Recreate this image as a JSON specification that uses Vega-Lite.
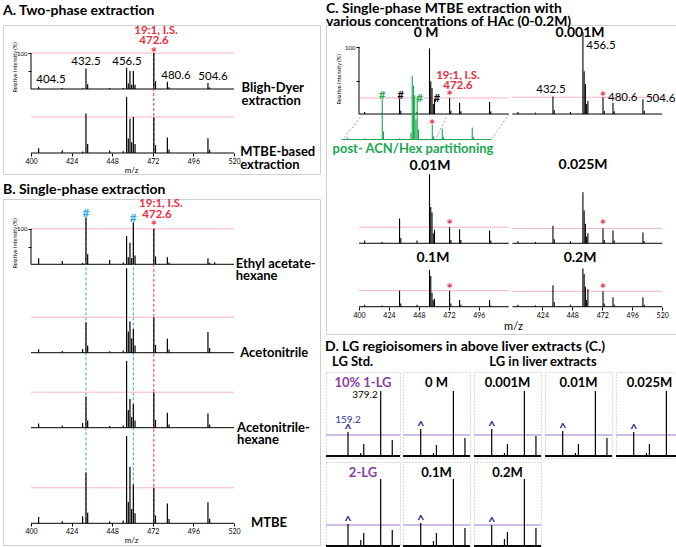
{
"$schema":"https://vega.github.io/schema/vega-lite/v6.json",
"background":"white",
"padding":{"left":2,"top":1,"right":0,"bottom":0},
"config":{
 "font":"Lato",
 "view":{"stroke":"#cfcfcf","strokeWidth":1},
 "title":{"font":"Lato","fontWeight":"bold","fontSize":14,"anchor":"start","color":"#000"},
 "axis":{"labelFont":"Lato","titleFont":"Lato","labelColor":"#000","tickColor":"#000","titleColor":"#000","grid":false,"domain":false},
 "text":{"font":"Lato","color":"#000"},
 "header":{"labels":false,"labelFontSize":0,"labelPadding":0,"title":null,"titlePadding":0},
 "headerFacet":{"labels":false,"labelFontSize":0,"labelPadding":0,"titlePadding":0}
},
"datasets":{
"spec":[
{"s":"A1","mz":404.5,"i":6},{"s":"A1","mz":418.5,"i":3},{"s":"A1","mz":430.5,"i":2},{"s":"A1","mz":432.5,"i":57},{"s":"A1","mz":433.5,"i":13},{"s":"A1","mz":446.5,"i":3},{"s":"A1","mz":454.5,"i":3},{"s":"A1","mz":456.5,"i":59},{"s":"A1","mz":457.5,"i":15},{"s":"A1","mz":458.5,"i":50},{"s":"A1","mz":459.5,"i":12},{"s":"A1","mz":460.5,"i":50},{"s":"A1","mz":461.5,"i":12},{"s":"A1","mz":472.6,"i":100},{"s":"A1","mz":473.6,"i":22},{"s":"A1","mz":480.6,"i":20},{"s":"A1","mz":481.6,"i":5},{"s":"A1","mz":504.6,"i":17},{"s":"A1","mz":505.6,"i":4},
{"s":"A2","mz":404.5,"i":13},{"s":"A2","mz":418.5,"i":8},{"s":"A2","mz":430.5,"i":4},{"s":"A2","mz":432.5,"i":110},{"s":"A2","mz":433.5,"i":25},{"s":"A2","mz":446.5,"i":7},{"s":"A2","mz":454.5,"i":5},{"s":"A2","mz":456.5,"i":156},{"s":"A2","mz":457.5,"i":40},{"s":"A2","mz":458.5,"i":96},{"s":"A2","mz":459.5,"i":30},{"s":"A2","mz":460.5,"i":100},{"s":"A2","mz":461.5,"i":25},{"s":"A2","mz":472.6,"i":99},{"s":"A2","mz":473.6,"i":22},{"s":"A2","mz":480.6,"i":43},{"s":"A2","mz":481.6,"i":10},{"s":"A2","mz":504.6,"i":41},{"s":"A2","mz":505.6,"i":9},
{"s":"B1","mz":404.5,"i":17},{"s":"B1","mz":418.5,"i":9},{"s":"B1","mz":430.5,"i":4},{"s":"B1","mz":432.5,"i":132},{"s":"B1","mz":433.5,"i":28},{"s":"B1","mz":446.5,"i":12},{"s":"B1","mz":454.5,"i":5},{"s":"B1","mz":456.5,"i":80},{"s":"B1","mz":457.5,"i":20},{"s":"B1","mz":458.5,"i":61},{"s":"B1","mz":459.5,"i":18},{"s":"B1","mz":460.5,"i":118},{"s":"B1","mz":461.5,"i":25},{"s":"B1","mz":472.6,"i":100},{"s":"B1","mz":473.6,"i":22},{"s":"B1","mz":480.6,"i":20},{"s":"B1","mz":481.6,"i":5},{"s":"B1","mz":504.6,"i":17},{"s":"B1","mz":505.6,"i":4},{"s":"B1","mz":508.6,"i":6},
{"s":"B2","mz":404.5,"i":10},{"s":"B2","mz":418.5,"i":5},{"s":"B2","mz":430.5,"i":10},{"s":"B2","mz":432.5,"i":86},{"s":"B2","mz":433.5,"i":20},{"s":"B2","mz":446.5,"i":4},{"s":"B2","mz":454.5,"i":6},{"s":"B2","mz":456.5,"i":238},{"s":"B2","mz":457.5,"i":60},{"s":"B2","mz":458.5,"i":88},{"s":"B2","mz":459.5,"i":40},{"s":"B2","mz":460.5,"i":66},{"s":"B2","mz":461.5,"i":20},{"s":"B2","mz":472.6,"i":100},{"s":"B2","mz":473.6,"i":22},{"s":"B2","mz":480.6,"i":39},{"s":"B2","mz":481.6,"i":9},{"s":"B2","mz":504.6,"i":58},{"s":"B2","mz":505.6,"i":13},
{"s":"B3","mz":404.5,"i":12},{"s":"B3","mz":418.5,"i":6},{"s":"B3","mz":430.5,"i":13},{"s":"B3","mz":432.5,"i":88},{"s":"B3","mz":433.5,"i":20},{"s":"B3","mz":446.5,"i":5},{"s":"B3","mz":454.5,"i":6},{"s":"B3","mz":456.5,"i":188},{"s":"B3","mz":457.5,"i":50},{"s":"B3","mz":458.5,"i":81},{"s":"B3","mz":459.5,"i":30},{"s":"B3","mz":460.5,"i":67},{"s":"B3","mz":461.5,"i":20},{"s":"B3","mz":472.6,"i":100},{"s":"B3","mz":473.6,"i":22},{"s":"B3","mz":480.6,"i":42},{"s":"B3","mz":481.6,"i":9},{"s":"B3","mz":504.6,"i":40},{"s":"B3","mz":505.6,"i":9},
{"s":"B4","mz":404.5,"i":18},{"s":"B4","mz":418.5,"i":6},{"s":"B4","mz":430.5,"i":20},{"s":"B4","mz":432.5,"i":143},{"s":"B4","mz":433.5,"i":30},{"s":"B4","mz":446.5,"i":5},{"s":"B4","mz":454.5,"i":8},{"s":"B4","mz":456.5,"i":246},{"s":"B4","mz":457.5,"i":60},{"s":"B4","mz":458.5,"i":159},{"s":"B4","mz":459.5,"i":40},{"s":"B4","mz":460.5,"i":109},{"s":"B4","mz":461.5,"i":28},{"s":"B4","mz":472.6,"i":100},{"s":"B4","mz":473.6,"i":22},{"s":"B4","mz":480.6,"i":56},{"s":"B4","mz":481.6,"i":12},{"s":"B4","mz":504.6,"i":59},{"s":"B4","mz":505.6,"i":13},
{"s":"C0","mz":404.5,"i":3},{"s":"C0","mz":418.5,"i":2},{"s":"C0","mz":432.5,"i":22},{"s":"C0","mz":433.5,"i":5},{"s":"C0","mz":446.5,"i":3},{"s":"C0","mz":456.5,"i":98},{"s":"C0","mz":457.5,"i":49},{"s":"C0","mz":458.5,"i":39},{"s":"C0","mz":459.5,"i":15},{"s":"C0","mz":460.5,"i":22},{"s":"C0","mz":472.6,"i":24},{"s":"C0","mz":473.6,"i":5},{"s":"C0","mz":480.6,"i":17},{"s":"C0","mz":481.6,"i":4},{"s":"C0","mz":504.6,"i":18},{"s":"C0","mz":505.6,"i":4},
{"s":"C1","mz":404.5,"i":3},{"s":"C1","mz":418.5,"i":2},{"s":"C1","mz":432.5,"i":26},{"s":"C1","mz":433.5,"i":6},{"s":"C1","mz":446.5,"i":3},{"s":"C1","mz":456.5,"i":122},{"s":"C1","mz":457.5,"i":64},{"s":"C1","mz":458.5,"i":45},{"s":"C1","mz":459.5,"i":15},{"s":"C1","mz":460.5,"i":20},{"s":"C1","mz":472.6,"i":25},{"s":"C1","mz":473.6,"i":5},{"s":"C1","mz":480.6,"i":17},{"s":"C1","mz":481.6,"i":4},{"s":"C1","mz":504.6,"i":22},{"s":"C1","mz":505.6,"i":5},
{"s":"C2","mz":404.5,"i":4},{"s":"C2","mz":418.5,"i":2},{"s":"C2","mz":432.5,"i":37},{"s":"C2","mz":433.5,"i":8},{"s":"C2","mz":446.5,"i":4},{"s":"C2","mz":456.5,"i":103},{"s":"C2","mz":457.5,"i":54},{"s":"C2","mz":458.5,"i":46},{"s":"C2","mz":459.5,"i":15},{"s":"C2","mz":460.5,"i":20},{"s":"C2","mz":472.6,"i":24},{"s":"C2","mz":473.6,"i":5},{"s":"C2","mz":480.6,"i":21},{"s":"C2","mz":481.6,"i":5},{"s":"C2","mz":504.6,"i":19},{"s":"C2","mz":505.6,"i":4},
{"s":"C3","mz":404.5,"i":3},{"s":"C3","mz":418.5,"i":2},{"s":"C3","mz":432.5,"i":26},{"s":"C3","mz":433.5,"i":6},{"s":"C3","mz":446.5,"i":3},{"s":"C3","mz":456.5,"i":76},{"s":"C3","mz":457.5,"i":49},{"s":"C3","mz":458.5,"i":29},{"s":"C3","mz":459.5,"i":10},{"s":"C3","mz":460.5,"i":15},{"s":"C3","mz":472.6,"i":22},{"s":"C3","mz":473.6,"i":5},{"s":"C3","mz":480.6,"i":19},{"s":"C3","mz":481.6,"i":4},{"s":"C3","mz":504.6,"i":16},{"s":"C3","mz":505.6,"i":3},
{"s":"C4","mz":404.5,"i":3},{"s":"C4","mz":418.5,"i":2},{"s":"C4","mz":432.5,"i":24},{"s":"C4","mz":433.5,"i":5},{"s":"C4","mz":446.5,"i":3},{"s":"C4","mz":456.5,"i":55},{"s":"C4","mz":457.5,"i":46},{"s":"C4","mz":458.5,"i":21},{"s":"C4","mz":459.5,"i":10},{"s":"C4","mz":460.5,"i":12},{"s":"C4","mz":472.6,"i":24},{"s":"C4","mz":473.6,"i":5},{"s":"C4","mz":480.6,"i":10},{"s":"C4","mz":481.6,"i":3},{"s":"C4","mz":504.6,"i":10},{"s":"C4","mz":505.6,"i":2},
{"s":"C5","mz":404.5,"i":3},{"s":"C5","mz":418.5,"i":2},{"s":"C5","mz":432.5,"i":32},{"s":"C5","mz":433.5,"i":7},{"s":"C5","mz":446.5,"i":3},{"s":"C5","mz":456.5,"i":57},{"s":"C5","mz":457.5,"i":49},{"s":"C5","mz":458.5,"i":30},{"s":"C5","mz":459.5,"i":10},{"s":"C5","mz":460.5,"i":26},{"s":"C5","mz":472.6,"i":23},{"s":"C5","mz":473.6,"i":5},{"s":"C5","mz":480.6,"i":14},{"s":"C5","mz":481.6,"i":3},{"s":"C5","mz":504.6,"i":14},{"s":"C5","mz":505.6,"i":3},
{"s":"CG","mz":404.5,"i":3},{"s":"CG","mz":418.5,"i":2},{"s":"CG","mz":432.5,"i":60},{"s":"CG","mz":433.5,"i":12},{"s":"CG","mz":446.5,"i":2},{"s":"CG","mz":455.5,"i":10},{"s":"CG","mz":456.5,"i":95},{"s":"CG","mz":457.5,"i":80},{"s":"CG","mz":458.5,"i":66},{"s":"CG","mz":459.5,"i":30},{"s":"CG","mz":460.5,"i":63},{"s":"CG","mz":461.5,"i":15},{"s":"CG","mz":472.6,"i":22},{"s":"CG","mz":473.6,"i":5},{"s":"CG","mz":480.6,"i":16},{"s":"CG","mz":481.6,"i":4},{"s":"CG","mz":504.6,"i":18},{"s":"CG","mz":505.6,"i":4}
],
"d":[
{"g":"std","cell":"10% 1-LG","mz":159.2,"i":24},{"g":"std","cell":"10% 1-LG","mz":245,"i":3},{"g":"std","cell":"10% 1-LG","mz":265,"i":12},{"g":"std","cell":"10% 1-LG","mz":379.2,"i":65},{"g":"std","cell":"10% 1-LG","mz":457,"i":16},
{"g":"std","cell":"2-LG","mz":159.2,"i":22},{"g":"std","cell":"2-LG","mz":245,"i":6},{"g":"std","cell":"2-LG","mz":265,"i":13},{"g":"std","cell":"2-LG","mz":379.2,"i":67},{"g":"std","cell":"2-LG","mz":457,"i":16},
{"g":"liv","cell":"0 M","mz":159.2,"i":27},{"g":"liv","cell":"0 M","mz":245,"i":3},{"g":"liv","cell":"0 M","mz":265,"i":11},{"g":"liv","cell":"0 M","mz":379.2,"i":65},{"g":"liv","cell":"0 M","mz":457,"i":18},
{"g":"liv","cell":"0.001M","mz":159.2,"i":27},{"g":"liv","cell":"0.001M","mz":245,"i":3},{"g":"liv","cell":"0.001M","mz":265,"i":12},{"g":"liv","cell":"0.001M","mz":379.2,"i":65},{"g":"liv","cell":"0.001M","mz":457,"i":20},
{"g":"liv","cell":"0.01M","mz":159.2,"i":25},{"g":"liv","cell":"0.01M","mz":245,"i":3},{"g":"liv","cell":"0.01M","mz":265,"i":12},{"g":"liv","cell":"0.01M","mz":379.2,"i":65},{"g":"liv","cell":"0.01M","mz":457,"i":18},
{"g":"liv","cell":"0.025M","mz":159.2,"i":24},{"g":"liv","cell":"0.025M","mz":245,"i":3},{"g":"liv","cell":"0.025M","mz":265,"i":12},{"g":"liv","cell":"0.025M","mz":379.2,"i":65},{"g":"liv","cell":"0.025M","mz":457,"i":16},
{"g":"liv","cell":"0.1M","mz":159.2,"i":23},{"g":"liv","cell":"0.1M","mz":245,"i":5},{"g":"liv","cell":"0.1M","mz":265,"i":13},{"g":"liv","cell":"0.1M","mz":379.2,"i":67},{"g":"liv","cell":"0.1M","mz":457,"i":18},
{"g":"liv","cell":"0.2M","mz":159.2,"i":21},{"g":"liv","cell":"0.2M","mz":245,"i":7},{"g":"liv","cell":"0.2M","mz":265,"i":14},{"g":"liv","cell":"0.2M","mz":379.2,"i":67},{"g":"liv","cell":"0.2M","mz":457,"i":18}
]
},
"spacing":4,
"hconcat":[
{"spacing":7,"vconcat":[
{"title":{"text":"A. Two-phase extraction","offset":7},
"width":317,"height":149,"data":{"name":"spec"},
"resolve":{"scale":{"y":"independent"},"axis":{"y":"independent"}},
"layer":[
{"layer":[
{"data":{"values":[{}]},"mark":{"type":"rule","color":"#f5b2bf"},"encoding":{"x":{"datum":400,"type":"quantitative","scale":{"domain":[383.45,570.83],"nice":false,"zero":false},"axis":{"values":[400,424,448,472,496,520],"tickSize":3,"labelFontSize":7,"labelPadding":1,"title":"m/z","titleFontSize":8,"titleFontWeight":"normal","titlePadding":2,"titleX":128,"offset":-21}},"x2":{"datum":520},"y":{"datum":100,"type":"quantitative","scale":{"domain":[-236.1,177.8],"nice":false,"zero":false},"axis":{"values":[50,100],"tickSize":3,"labelExpr":"datum.value==100?'100':''","labelFontSize":6,"labelPadding":1,"title":"Relative Intensity (%)","titleFontSize":5.5,"titleFontWeight":"normal","titleX":-14,"titleY":42,"offset":-28}}}},
{"data":{"values":[{}]},"mark":{"type":"rule","color":"#000"},"encoding":{"x":{"datum":400,"type":"quantitative","scale":{"domain":[383.45,570.83],"nice":false,"zero":false}},"x2":{"datum":520},"y":{"datum":0,"type":"quantitative","scale":{"domain":[-236.1,177.8],"nice":false,"zero":false}}}},
{"data":{"values":[{}]},"mark":{"type":"rule","color":"#000"},"encoding":{"x":{"datum":400,"type":"quantitative","scale":{"domain":[383.45,570.83],"nice":false,"zero":false}},"y":{"datum":0,"type":"quantitative","scale":{"domain":[-236.1,177.8],"nice":false,"zero":false}},"y2":{"datum":100}}},
{"data":{"values":[{}]},"mark":{"type":"rule","color":"#ec2d3f","strokeDash":[3,2]},"encoding":{"x":{"datum":472.6,"type":"quantitative","scale":{"domain":[383.45,570.83],"nice":false,"zero":false}},"y":{"datum":100,"type":"quantitative","scale":{"domain":[-236.1,177.8],"nice":false,"zero":false}},"y2":{"datum":-178}}},
{"transform":[{"filter":"datum.s=='A1'"}],"mark":{"type":"rule","color":"#000","strokeWidth":1.2},"encoding":{"x":{"field":"mz","type":"quantitative","scale":{"domain":[383.45,570.83],"nice":false,"zero":false}},"y":{"field":"i","type":"quantitative","scale":{"domain":[-236.1,177.8],"nice":false,"zero":false}},"y2":{"datum":0}}},
{"data":{"values":[{}]},"mark":{"type":"text","text":"404.5","fontSize":11.5},"encoding":{"x":{"datum":411.8,"type":"quantitative","scale":{"domain":[383.45,570.83],"nice":false,"zero":false}},"y":{"datum":25,"type":"quantitative","scale":{"domain":[-236.1,177.8],"nice":false,"zero":false}}}},
{"data":{"values":[{}]},"mark":{"type":"text","text":"432.5","fontSize":11.5},"encoding":{"x":{"datum":432.5,"type":"quantitative","scale":{"domain":[383.45,570.83],"nice":false,"zero":false}},"y":{"datum":75,"type":"quantitative","scale":{"domain":[-236.1,177.8],"nice":false,"zero":false}}}},
{"data":{"values":[{}]},"mark":{"type":"text","text":"456.5","fontSize":11.5},"encoding":{"x":{"datum":456.7,"type":"quantitative","scale":{"domain":[383.45,570.83],"nice":false,"zero":false}},"y":{"datum":75,"type":"quantitative","scale":{"domain":[-236.1,177.8],"nice":false,"zero":false}}}},
{"data":{"values":[{}]},"mark":{"type":"text","text":"480.6","fontSize":11.5},"encoding":{"x":{"datum":485.7,"type":"quantitative","scale":{"domain":[383.45,570.83],"nice":false,"zero":false}},"y":{"datum":36,"type":"quantitative","scale":{"domain":[-236.1,177.8],"nice":false,"zero":false}}}},
{"data":{"values":[{}]},"mark":{"type":"text","text":"504.6","fontSize":11.5},"encoding":{"x":{"datum":507.6,"type":"quantitative","scale":{"domain":[383.45,570.83],"nice":false,"zero":false}},"y":{"datum":33,"type":"quantitative","scale":{"domain":[-236.1,177.8],"nice":false,"zero":false}}}},
{"data":{"values":[{}]},"mark":{"type":"text","text":"19:1, I.S.","fontSize":11.5,"fontWeight":"bold","color":"#ec2d3f"},"encoding":{"x":{"datum":473.9,"type":"quantitative","scale":{"domain":[383.45,570.83],"nice":false,"zero":false}},"y":{"datum":160,"type":"quantitative","scale":{"domain":[-236.1,177.8],"nice":false,"zero":false}}}},
{"data":{"values":[{}]},"mark":{"type":"text","text":"472.6","fontSize":11.5,"fontWeight":"bold","color":"#ec2d3f"},"encoding":{"x":{"datum":472.7,"type":"quantitative","scale":{"domain":[383.45,570.83],"nice":false,"zero":false}},"y":{"datum":132,"type":"quantitative","scale":{"domain":[-236.1,177.8],"nice":false,"zero":false}}}},
{"data":{"values":[{}]},"mark":{"type":"text","text":"*","fontSize":15,"fontWeight":"bold","color":"#ec2d3f","baseline":"alphabetic"},"encoding":{"x":{"datum":472.6,"type":"quantitative","scale":{"domain":[383.45,570.83],"nice":false,"zero":false}},"y":{"datum":86,"type":"quantitative","scale":{"domain":[-236.1,177.8],"nice":false,"zero":false}}}},
{"data":{"values":[{}]},"mark":{"type":"text","text":["Bligh-Dyer","extraction"],"fontSize":13,"fontWeight":"bold","align":"left","lineHeight":13},"encoding":{"x":{"datum":524.5,"type":"quantitative","scale":{"domain":[383.45,570.83],"nice":false,"zero":false}},"y":{"datum":2,"type":"quantitative","scale":{"domain":[-236.1,177.8],"nice":false,"zero":false}}}}
]},
{"layer":[
{"data":{"values":[{}]},"mark":{"type":"rule","color":"#f5b2bf"},"encoding":{"x":{"datum":400,"type":"quantitative","scale":{"domain":[383.45,570.83],"nice":false,"zero":false}},"x2":{"datum":520},"y":{"datum":100,"type":"quantitative","scale":{"domain":[-58.3,355.6],"nice":false,"zero":false},"axis":null}}},
{"data":{"values":[{}]},"mark":{"type":"rule","color":"#000"},"encoding":{"x":{"datum":400,"type":"quantitative","scale":{"domain":[383.45,570.83],"nice":false,"zero":false}},"x2":{"datum":520},"y":{"datum":0,"type":"quantitative","scale":{"domain":[-58.3,355.6],"nice":false,"zero":false},"axis":null}}},
{"transform":[{"filter":"datum.s=='A2'"}],"mark":{"type":"rule","color":"#000","strokeWidth":1.2},"encoding":{"x":{"field":"mz","type":"quantitative","scale":{"domain":[383.45,570.83],"nice":false,"zero":false}},"y":{"field":"i","type":"quantitative","scale":{"domain":[-58.3,355.6],"nice":false,"zero":false},"axis":null},"y2":{"datum":0}}},
{"data":{"values":[{}]},"mark":{"type":"text","text":["MTBE-based","extraction"],"fontSize":13,"fontWeight":"bold","align":"left","lineHeight":13},"encoding":{"x":{"datum":523.7,"type":"quantitative","scale":{"domain":[383.45,570.83],"nice":false,"zero":false}},"y":{"datum":3,"type":"quantitative","scale":{"domain":[-58.3,355.6],"nice":false,"zero":false},"axis":null}}}
]}
]},
{"title":{"text":"B. Single-phase extraction","offset":1},
"width":317,"height":346,"data":{"name":"spec"},
"resolve":{"scale":{"y":"independent"},"axis":{"y":"independent"}},
"layer":[
{"layer":[
{"data":{"values":[{}]},"mark":{"type":"rule","color":"#f5b2bf"},"encoding":{"x":{"datum":400,"type":"quantitative","scale":{"domain":[383.45,570.83],"nice":false,"zero":false},"axis":{"values":[400,424,448,472,496,520],"tickSize":3,"labelFontSize":7,"labelPadding":1,"title":"m/z","titleFontSize":8,"titleFontWeight":"normal","titlePadding":2,"titleX":128,"offset":-22}},"x2":{"datum":520},"y":{"datum":100,"type":"quantitative","scale":{"domain":[-790.7,183.9],"nice":false,"zero":false},"axis":{"values":[50,100],"tickSize":3,"labelExpr":"datum.value==100?'100':''","labelFontSize":6,"labelPadding":1,"title":"Relative Intensity (%)","titleFontSize":5.5,"titleFontWeight":"normal","titleX":-14,"titleY":44,"offset":-28}}}},
{"data":{"values":[{}]},"mark":{"type":"rule","color":"#000"},"encoding":{"x":{"datum":400,"type":"quantitative","scale":{"domain":[383.45,570.83],"nice":false,"zero":false}},"x2":{"datum":520},"y":{"datum":0,"type":"quantitative","scale":{"domain":[-790.7,183.9],"nice":false,"zero":false}}}},
{"data":{"values":[{}]},"mark":{"type":"rule","color":"#000"},"encoding":{"x":{"datum":400,"type":"quantitative","scale":{"domain":[383.45,570.83],"nice":false,"zero":false}},"y":{"datum":0,"type":"quantitative","scale":{"domain":[-790.7,183.9],"nice":false,"zero":false}},"y2":{"datum":100}}},
{"data":{"values":[{}]},"mark":{"type":"rule","color":"#2aa9e0","strokeDash":[3,2]},"encoding":{"x":{"datum":432.5,"type":"quantitative","scale":{"domain":[383.45,570.83],"nice":false,"zero":false}},"y":{"datum":132,"type":"quantitative","scale":{"domain":[-790.7,183.9],"nice":false,"zero":false}},"y2":{"datum":-729.6}}},
{"data":{"values":[{}]},"mark":{"type":"rule","color":"#2aa9e0","strokeDash":[3,2]},"encoding":{"x":{"datum":460.5,"type":"quantitative","scale":{"domain":[383.45,570.83],"nice":false,"zero":false}},"y":{"datum":118,"type":"quantitative","scale":{"domain":[-790.7,183.9],"nice":false,"zero":false}},"y2":{"datum":-729.6}}},
{"data":{"values":[{}]},"mark":{"type":"rule","color":"#ec2d3f","strokeDash":[3,2]},"encoding":{"x":{"datum":472.6,"type":"quantitative","scale":{"domain":[383.45,570.83],"nice":false,"zero":false}},"y":{"datum":100,"type":"quantitative","scale":{"domain":[-790.7,183.9],"nice":false,"zero":false}},"y2":{"datum":-729.6}}},
{"transform":[{"filter":"datum.s=='B1'"}],"mark":{"type":"rule","color":"#000","strokeWidth":1.2},"encoding":{"x":{"field":"mz","type":"quantitative","scale":{"domain":[383.45,570.83],"nice":false,"zero":false}},"y":{"field":"i","type":"quantitative","scale":{"domain":[-790.7,183.9],"nice":false,"zero":false}},"y2":{"datum":0}}},
{"data":{"values":[{}]},"mark":{"type":"text","text":"#","fontSize":12,"fontWeight":"bold","color":"#2aa9e0","baseline":"alphabetic"},"encoding":{"x":{"datum":432.5,"type":"quantitative","scale":{"domain":[383.45,570.83],"nice":false,"zero":false}},"y":{"datum":134,"type":"quantitative","scale":{"domain":[-790.7,183.9],"nice":false,"zero":false}}}},
{"data":{"values":[{}]},"mark":{"type":"text","text":"#","fontSize":12,"fontWeight":"bold","color":"#2aa9e0","baseline":"alphabetic"},"encoding":{"x":{"datum":460.5,"type":"quantitative","scale":{"domain":[383.45,570.83],"nice":false,"zero":false}},"y":{"datum":120,"type":"quantitative","scale":{"domain":[-790.7,183.9],"nice":false,"zero":false}}}},
{"data":{"values":[{}]},"mark":{"type":"text","text":"19:1, I.S.","fontSize":11.5,"fontWeight":"bold","color":"#ec2d3f"},"encoding":{"x":{"datum":476.8,"type":"quantitative","scale":{"domain":[383.45,570.83],"nice":false,"zero":false}},"y":{"datum":170,"type":"quantitative","scale":{"domain":[-790.7,183.9],"nice":false,"zero":false}}}},
{"data":{"values":[{}]},"mark":{"type":"text","text":"472.6","fontSize":11.5,"fontWeight":"bold","color":"#ec2d3f"},"encoding":{"x":{"datum":474.5,"type":"quantitative","scale":{"domain":[383.45,570.83],"nice":false,"zero":false}},"y":{"datum":138,"type":"quantitative","scale":{"domain":[-790.7,183.9],"nice":false,"zero":false}}}},
{"data":{"values":[{}]},"mark":{"type":"text","text":"*","fontSize":15,"fontWeight":"bold","color":"#ec2d3f","baseline":"alphabetic"},"encoding":{"x":{"datum":472.6,"type":"quantitative","scale":{"domain":[383.45,570.83],"nice":false,"zero":false}},"y":{"datum":93,"type":"quantitative","scale":{"domain":[-790.7,183.9],"nice":false,"zero":false}}}},
{"data":{"values":[{}]},"mark":{"type":"text","text":["Ethyl acetate-","hexane"],"fontSize":13,"fontWeight":"bold","align":"left","lineHeight":12},"encoding":{"x":{"datum":521,"type":"quantitative","scale":{"domain":[383.45,570.83],"nice":false,"zero":false}},"y":{"datum":0,"type":"quantitative","scale":{"domain":[-790.7,183.9],"nice":false,"zero":false}}}}
]},
{"layer":[
{"data":{"values":[{}]},"mark":{"type":"rule","color":"#f5b2bf"},"encoding":{"x":{"datum":400,"type":"quantitative","scale":{"domain":[383.45,570.83],"nice":false,"zero":false}},"x2":{"datum":520},"y":{"datum":100,"type":"quantitative","scale":{"domain":[-541.7,433.0],"nice":false,"zero":false},"axis":null}}},
{"data":{"values":[{}]},"mark":{"type":"rule","color":"#000"},"encoding":{"x":{"datum":400,"type":"quantitative","scale":{"domain":[383.45,570.83],"nice":false,"zero":false}},"x2":{"datum":520},"y":{"datum":0,"type":"quantitative","scale":{"domain":[-541.7,433.0],"nice":false,"zero":false},"axis":null}}},
{"transform":[{"filter":"datum.s=='B2'"}],"mark":{"type":"rule","color":"#000","strokeWidth":1.2},"encoding":{"x":{"field":"mz","type":"quantitative","scale":{"domain":[383.45,570.83],"nice":false,"zero":false}},"y":{"field":"i","type":"quantitative","scale":{"domain":[-541.7,433.0],"nice":false,"zero":false},"axis":null},"y2":{"datum":0}}},
{"data":{"values":[{}]},"mark":{"type":"text","text":"Acetonitrile","fontSize":13,"fontWeight":"bold","align":"left"},"encoding":{"x":{"datum":523.7,"type":"quantitative","scale":{"domain":[383.45,570.83],"nice":false,"zero":false}},"y":{"datum":-2,"type":"quantitative","scale":{"domain":[-541.7,433.0],"nice":false,"zero":false},"axis":null}}}
]},
{"layer":[
{"data":{"values":[{}]},"mark":{"type":"rule","color":"#f5b2bf"},"encoding":{"x":{"datum":400,"type":"quantitative","scale":{"domain":[383.45,570.83],"nice":false,"zero":false}},"x2":{"datum":520},"y":{"datum":100,"type":"quantitative","scale":{"domain":[-330.4,644.2],"nice":false,"zero":false},"axis":null}}},
{"data":{"values":[{}]},"mark":{"type":"rule","color":"#000"},"encoding":{"x":{"datum":400,"type":"quantitative","scale":{"domain":[383.45,570.83],"nice":false,"zero":false}},"x2":{"datum":520},"y":{"datum":0,"type":"quantitative","scale":{"domain":[-330.4,644.2],"nice":false,"zero":false},"axis":null}}},
{"transform":[{"filter":"datum.s=='B3'"}],"mark":{"type":"rule","color":"#000","strokeWidth":1.2},"encoding":{"x":{"field":"mz","type":"quantitative","scale":{"domain":[383.45,570.83],"nice":false,"zero":false}},"y":{"field":"i","type":"quantitative","scale":{"domain":[-330.4,644.2],"nice":false,"zero":false},"axis":null},"y2":{"datum":0}}},
{"data":{"values":[{}]},"mark":{"type":"text","text":["Acetonitrile-","hexane"],"fontSize":13,"fontWeight":"bold","align":"left","lineHeight":12},"encoding":{"x":{"datum":521.8,"type":"quantitative","scale":{"domain":[383.45,570.83],"nice":false,"zero":false}},"y":{"datum":0,"type":"quantitative","scale":{"domain":[-330.4,644.2],"nice":false,"zero":false},"axis":null}}}
]},
{"layer":[
{"data":{"values":[{}]},"mark":{"type":"rule","color":"#f5b2bf"},"encoding":{"x":{"datum":400,"type":"quantitative","scale":{"domain":[383.45,570.83],"nice":false,"zero":false}},"x2":{"datum":520},"y":{"datum":100,"type":"quantitative","scale":{"domain":[-61.1,913.5],"nice":false,"zero":false},"axis":null}}},
{"data":{"values":[{}]},"mark":{"type":"rule","color":"#000"},"encoding":{"x":{"datum":400,"type":"quantitative","scale":{"domain":[383.45,570.83],"nice":false,"zero":false}},"x2":{"datum":520},"y":{"datum":0,"type":"quantitative","scale":{"domain":[-61.1,913.5],"nice":false,"zero":false},"axis":null}}},
{"transform":[{"filter":"datum.s=='B4'"}],"mark":{"type":"rule","color":"#000","strokeWidth":1.2},"encoding":{"x":{"field":"mz","type":"quantitative","scale":{"domain":[383.45,570.83],"nice":false,"zero":false}},"y":{"field":"i","type":"quantitative","scale":{"domain":[-61.1,913.5],"nice":false,"zero":false},"axis":null},"y2":{"datum":0}}},
{"data":{"values":[{}]},"mark":{"type":"text","text":"MTBE","fontSize":13,"fontWeight":"bold","align":"left"},"encoding":{"x":{"datum":530,"type":"quantitative","scale":{"domain":[383.45,570.83],"nice":false,"zero":false}},"y":{"datum":0,"type":"quantitative","scale":{"domain":[-61.1,913.5],"nice":false,"zero":false},"axis":null}}}
]}
]}
]},
{"spacing":4,"vconcat":[
{"title":{"text":["C. Single-phase MTBE extraction with","\u00a0\u00a0\u00a0\u00a0various concentrations of HAc (0-0.2M)"],"offset":-4,"lineHeight":13},
"width":350,"height":309,"data":{"name":"spec"},
"resolve":{"scale":{"x":"independent","y":"independent"},"axis":{"x":"independent","y":"independent"}},
"layer":[
{"layer":[
{"data":{"values":[{}]},"mark":{"type":"rule","color":"#f5b2bf"},"encoding":{"x":{"datum":400,"type":"quantitative","scale":{"domain":[373.56,654.0],"nice":false,"zero":false},"axis":null},"x2":{"datum":520},"y":{"datum":24,"type":"quantitative","scale":{"domain":[-328.4,132.9],"nice":false,"zero":false},"axis":{"values":[50,100],"tickSize":3,"labelExpr":"datum.value==100?'100':''","labelFontSize":6,"labelPadding":1,"title":"Relative Intensity (%)","titleFontSize":5.5,"titleFontWeight":"normal","titleX":-18,"titleY":54,"offset":-33}}}},
{"data":{"values":[{}]},"mark":{"type":"rule","color":"#000"},"encoding":{"x":{"datum":400,"type":"quantitative","scale":{"domain":[373.56,654.0],"nice":false,"zero":false},"axis":null},"x2":{"datum":520},"y":{"datum":0,"type":"quantitative","scale":{"domain":[-328.4,132.9],"nice":false,"zero":false}}}},
{"data":{"values":[{}]},"mark":{"type":"rule","color":"#000"},"encoding":{"x":{"datum":400,"type":"quantitative","scale":{"domain":[373.56,654.0],"nice":false,"zero":false},"axis":null},"y":{"datum":0,"type":"quantitative","scale":{"domain":[-328.4,132.9],"nice":false,"zero":false}},"y2":{"datum":100}}},
{"data":{"values":[{}]},"mark":{"type":"rule","color":"#8c8c8c","strokeDash":[2,2],"strokeWidth":0.8},"encoding":{"x":{"datum":403,"type":"quantitative","scale":{"domain":[373.56,654.0],"nice":false,"zero":false},"axis":null},"y":{"datum":0,"type":"quantitative","scale":{"domain":[-328.4,132.9],"nice":false,"zero":false}},"x2":{"datum":387.2},"y2":{"datum":-38.1}}},
{"data":{"values":[{}]},"mark":{"type":"rule","color":"#8c8c8c","strokeDash":[2,2],"strokeWidth":0.8},"encoding":{"x":{"datum":470,"type":"quantitative","scale":{"domain":[373.56,654.0],"nice":false,"zero":false},"axis":null},"y":{"datum":-4.9,"type":"quantitative","scale":{"domain":[-328.4,132.9],"nice":false,"zero":false}},"x2":{"datum":460.7},"y2":{"datum":-40}}},
{"data":{"values":[{}]},"mark":{"type":"rule","color":"#8c8c8c","strokeDash":[2,2],"strokeWidth":0.8},"encoding":{"x":{"datum":520,"type":"quantitative","scale":{"domain":[373.56,654.0],"nice":false,"zero":false},"axis":null},"y":{"datum":0,"type":"quantitative","scale":{"domain":[-328.4,132.9],"nice":false,"zero":false}},"x2":{"datum":506.2},"y2":{"datum":-38.1}}},
{"transform":[{"filter":"datum.s=='C0'"}],"mark":{"type":"rule","color":"#000","strokeWidth":1.1},"encoding":{"x":{"field":"mz","type":"quantitative","scale":{"domain":[373.56,654.0],"nice":false,"zero":false},"axis":null},"y":{"field":"i","type":"quantitative","scale":{"domain":[-328.4,132.9],"nice":false,"zero":false}},"y2":{"datum":0}}},
{"data":{"values":[{}]},"mark":{"type":"text","text":"0 M","fontSize":14,"fontWeight":"bold"},"encoding":{"x":{"datum":453.7,"type":"quantitative","scale":{"domain":[373.56,654.0],"nice":false,"zero":false},"axis":null},"y":{"datum":120.9,"type":"quantitative","scale":{"domain":[-328.4,132.9],"nice":false,"zero":false}}}},
{"data":{"values":[{}]},"mark":{"type":"text","text":"#","fontSize":11,"fontWeight":"bold","baseline":"alphabetic"},"encoding":{"x":{"datum":433.4,"type":"quantitative","scale":{"domain":[373.56,654.0],"nice":false,"zero":false},"axis":null},"y":{"datum":23,"type":"quantitative","scale":{"domain":[-328.4,132.9],"nice":false,"zero":false}}}},
{"data":{"values":[{}]},"mark":{"type":"text","text":"#","fontSize":11,"fontWeight":"bold","baseline":"alphabetic"},"encoding":{"x":{"datum":462.5,"type":"quantitative","scale":{"domain":[373.56,654.0],"nice":false,"zero":false},"axis":null},"y":{"datum":18,"type":"quantitative","scale":{"domain":[-328.4,132.9],"nice":false,"zero":false}}}},
{"data":{"values":[{}]},"mark":{"type":"text","text":"19:1, I.S.","fontSize":11.5,"fontWeight":"bold","color":"#ec2d3f"},"encoding":{"x":{"datum":479.3,"type":"quantitative","scale":{"domain":[373.56,654.0],"nice":false,"zero":false},"axis":null},"y":{"datum":56.5,"type":"quantitative","scale":{"domain":[-328.4,132.9],"nice":false,"zero":false}}}},
{"data":{"values":[{}]},"mark":{"type":"text","text":"472.6","fontSize":11.5,"fontWeight":"bold","color":"#ec2d3f"},"encoding":{"x":{"datum":479.3,"type":"quantitative","scale":{"domain":[373.56,654.0],"nice":false,"zero":false},"axis":null},"y":{"datum":42.5,"type":"quantitative","scale":{"domain":[-328.4,132.9],"nice":false,"zero":false}}}},
{"data":{"values":[{}]},"mark":{"type":"text","text":"*","fontSize":15,"fontWeight":"bold","color":"#ec2d3f","baseline":"alphabetic"},"encoding":{"x":{"datum":472.6,"type":"quantitative","scale":{"domain":[373.56,654.0],"nice":false,"zero":false},"axis":null},"y":{"datum":19.4,"type":"quantitative","scale":{"domain":[-328.4,132.9],"nice":false,"zero":false}}}}
]},
{"layer":[
{"data":{"values":[{}]},"mark":{"type":"rule","color":"#f5b2bf"},"encoding":{"x":{"datum":400,"type":"quantitative","scale":{"domain":[250.64,531.09],"nice":false,"zero":false},"axis":null},"x2":{"datum":520},"y":{"datum":25,"type":"quantitative","scale":{"domain":[-328.4,132.9],"nice":false,"zero":false},"axis":null}}},
{"data":{"values":[{}]},"mark":{"type":"rule","color":"#000"},"encoding":{"x":{"datum":400,"type":"quantitative","scale":{"domain":[250.64,531.09],"nice":false,"zero":false},"axis":null},"x2":{"datum":520},"y":{"datum":0,"type":"quantitative","scale":{"domain":[-328.4,132.9],"nice":false,"zero":false},"axis":null}}},
{"transform":[{"filter":"datum.s=='C1'"}],"mark":{"type":"rule","color":"#000","strokeWidth":1.1},"encoding":{"x":{"field":"mz","type":"quantitative","scale":{"domain":[250.64,531.09],"nice":false,"zero":false},"axis":null},"y":{"field":"i","type":"quantitative","scale":{"domain":[-328.4,132.9],"nice":false,"zero":false},"axis":null},"y2":{"datum":0}}},
{"data":{"values":[{}]},"mark":{"type":"text","text":"0.001M","fontSize":14,"fontWeight":"bold"},"encoding":{"x":{"datum":454.2,"type":"quantitative","scale":{"domain":[250.64,531.09],"nice":false,"zero":false},"axis":null},"y":{"datum":120.9,"type":"quantitative","scale":{"domain":[-328.4,132.9],"nice":false,"zero":false},"axis":null}}},
{"data":{"values":[{}]},"mark":{"type":"text","text":"432.5","fontSize":11.5},"encoding":{"x":{"datum":430.9,"type":"quantitative","scale":{"domain":[250.64,531.09],"nice":false,"zero":false},"axis":null},"y":{"datum":36.3,"type":"quantitative","scale":{"domain":[-328.4,132.9],"nice":false,"zero":false},"axis":null}}},
{"data":{"values":[{}]},"mark":{"type":"text","text":"456.5","fontSize":11.5,"align":"left"},"encoding":{"x":{"datum":459.2,"type":"quantitative","scale":{"domain":[250.64,531.09],"nice":false,"zero":false},"axis":null},"y":{"datum":101.9,"type":"quantitative","scale":{"domain":[-328.4,132.9],"nice":false,"zero":false},"axis":null}}},
{"data":{"values":[{}]},"mark":{"type":"text","text":"480.6","fontSize":11.5,"align":"left"},"encoding":{"x":{"datum":476.6,"type":"quantitative","scale":{"domain":[250.64,531.09],"nice":false,"zero":false},"axis":null},"y":{"datum":23.9,"type":"quantitative","scale":{"domain":[-328.4,132.9],"nice":false,"zero":false},"axis":null}}},
{"data":{"values":[{}]},"mark":{"type":"text","text":"504.6","fontSize":11.5,"align":"left"},"encoding":{"x":{"datum":507,"type":"quantitative","scale":{"domain":[250.64,531.09],"nice":false,"zero":false},"axis":null},"y":{"datum":22.4,"type":"quantitative","scale":{"domain":[-328.4,132.9],"nice":false,"zero":false},"axis":null}}},
{"data":{"values":[{}]},"mark":{"type":"text","text":"*","fontSize":15,"fontWeight":"bold","color":"#ec2d3f","baseline":"alphabetic"},"encoding":{"x":{"datum":472.6,"type":"quantitative","scale":{"domain":[250.64,531.09],"nice":false,"zero":false},"axis":null},"y":{"datum":17.9,"type":"quantitative","scale":{"domain":[-328.4,132.9],"nice":false,"zero":false},"axis":null}}}
]},
{"layer":[
{"data":{"values":[{}]},"mark":{"type":"rule","color":"#f5b2bf"},"encoding":{"x":{"datum":400,"type":"quantitative","scale":{"domain":[373.56,654.0],"nice":false,"zero":false},"axis":null},"x2":{"datum":520},"y":{"datum":24,"type":"quantitative","scale":{"domain":[-135.4,325.8],"nice":false,"zero":false},"axis":null}}},
{"data":{"values":[{}]},"mark":{"type":"rule","color":"#000"},"encoding":{"x":{"datum":400,"type":"quantitative","scale":{"domain":[373.56,654.0],"nice":false,"zero":false},"axis":null},"x2":{"datum":520},"y":{"datum":0,"type":"quantitative","scale":{"domain":[-135.4,325.8],"nice":false,"zero":false},"axis":null}}},
{"transform":[{"filter":"datum.s=='C2'"}],"mark":{"type":"rule","color":"#000","strokeWidth":1.1},"encoding":{"x":{"field":"mz","type":"quantitative","scale":{"domain":[373.56,654.0],"nice":false,"zero":false},"axis":null},"y":{"field":"i","type":"quantitative","scale":{"domain":[-135.4,325.8],"nice":false,"zero":false},"axis":null},"y2":{"datum":0}}},
{"data":{"values":[{}]},"mark":{"type":"text","text":"0.01M","fontSize":14,"fontWeight":"bold"},"encoding":{"x":{"datum":456.9,"type":"quantitative","scale":{"domain":[373.56,654.0],"nice":false,"zero":false},"axis":null},"y":{"datum":115.8,"type":"quantitative","scale":{"domain":[-135.4,325.8],"nice":false,"zero":false},"axis":null}}},
{"data":{"values":[{}]},"mark":{"type":"text","text":"*","fontSize":15,"fontWeight":"bold","color":"#ec2d3f","baseline":"alphabetic"},"encoding":{"x":{"datum":472.6,"type":"quantitative","scale":{"domain":[373.56,654.0],"nice":false,"zero":false},"axis":null},"y":{"datum":19.9,"type":"quantitative","scale":{"domain":[-135.4,325.8],"nice":false,"zero":false},"axis":null}}}
]},
{"layer":[
{"data":{"values":[{}]},"mark":{"type":"rule","color":"#f5b2bf"},"encoding":{"x":{"datum":400,"type":"quantitative","scale":{"domain":[250.64,531.09],"nice":false,"zero":false},"axis":null},"x2":{"datum":520},"y":{"datum":22,"type":"quantitative","scale":{"domain":[-135.4,325.8],"nice":false,"zero":false},"axis":null}}},
{"data":{"values":[{}]},"mark":{"type":"rule","color":"#000"},"encoding":{"x":{"datum":400,"type":"quantitative","scale":{"domain":[250.64,531.09],"nice":false,"zero":false},"axis":null},"x2":{"datum":520},"y":{"datum":0,"type":"quantitative","scale":{"domain":[-135.4,325.8],"nice":false,"zero":false},"axis":null}}},
{"transform":[{"filter":"datum.s=='C3'"}],"mark":{"type":"rule","color":"#000","strokeWidth":1.1},"encoding":{"x":{"field":"mz","type":"quantitative","scale":{"domain":[250.64,531.09],"nice":false,"zero":false},"axis":null},"y":{"field":"i","type":"quantitative","scale":{"domain":[-135.4,325.8],"nice":false,"zero":false},"axis":null},"y2":{"datum":0}}},
{"data":{"values":[{}]},"mark":{"type":"text","text":"0.025M","fontSize":14,"fontWeight":"bold"},"encoding":{"x":{"datum":456.6,"type":"quantitative","scale":{"domain":[250.64,531.09],"nice":false,"zero":false},"axis":null},"y":{"datum":117.3,"type":"quantitative","scale":{"domain":[-135.4,325.8],"nice":false,"zero":false},"axis":null}}},
{"data":{"values":[{}]},"mark":{"type":"text","text":"*","fontSize":15,"fontWeight":"bold","color":"#ec2d3f","baseline":"alphabetic"},"encoding":{"x":{"datum":472.6,"type":"quantitative","scale":{"domain":[250.64,531.09],"nice":false,"zero":false},"axis":null},"y":{"datum":20.3,"type":"quantitative","scale":{"domain":[-135.4,325.8],"nice":false,"zero":false},"axis":null}}}
]},
{"layer":[
{"data":{"values":[{}]},"mark":{"type":"rule","color":"#000"},"encoding":{"x":{"datum":400,"type":"quantitative","scale":{"domain":[373.56,654.0],"nice":false,"zero":false},"axis":{"orient":"bottom","values":[400,424,448,472,496],"tickSize":3,"labelFontSize":7,"labelPadding":1,"title":"m/z","titleFontSize":11,"titleFontWeight":"normal","titleX":187,"titleY":13,"offset":-27}},"x2":{"datum":520},"y":{"datum":0,"type":"quantitative","scale":{"domain":[-40.7,420.5],"nice":false,"zero":false},"axis":null}}},
{"data":{"values":[{}]},"mark":{"type":"rule","color":"#f5b2bf"},"encoding":{"x":{"datum":400,"type":"quantitative","scale":{"domain":[373.56,654.0],"nice":false,"zero":false}},"x2":{"datum":520},"y":{"datum":24,"type":"quantitative","scale":{"domain":[-40.7,420.5],"nice":false,"zero":false},"axis":null}}},
{"transform":[{"filter":"datum.s=='C4'"}],"mark":{"type":"rule","color":"#000","strokeWidth":1.1},"encoding":{"x":{"field":"mz","type":"quantitative","scale":{"domain":[373.56,654.0],"nice":false,"zero":false}},"y":{"field":"i","type":"quantitative","scale":{"domain":[-40.7,420.5],"nice":false,"zero":false},"axis":null},"y2":{"datum":0}}},
{"data":{"values":[{}]},"mark":{"type":"text","text":"0.1M","fontSize":14,"fontWeight":"bold"},"encoding":{"x":{"datum":459.3,"type":"quantitative","scale":{"domain":[373.56,654.0],"nice":false,"zero":false}},"y":{"datum":72.7,"type":"quantitative","scale":{"domain":[-40.7,420.5],"nice":false,"zero":false},"axis":null}}},
{"data":{"values":[{}]},"mark":{"type":"text","text":"*","fontSize":15,"fontWeight":"bold","color":"#ec2d3f","baseline":"alphabetic"},"encoding":{"x":{"datum":472.6,"type":"quantitative","scale":{"domain":[373.56,654.0],"nice":false,"zero":false}},"y":{"datum":19.4,"type":"quantitative","scale":{"domain":[-40.7,420.5],"nice":false,"zero":false},"axis":null}}}
]},
{"layer":[
{"data":{"values":[{}]},"mark":{"type":"rule","color":"#000"},"encoding":{"x":{"datum":400,"type":"quantitative","scale":{"domain":[250.64,531.09],"nice":false,"zero":false},"axis":{"orient":"bottom","values":[424,448,472,496,520],"tickSize":3,"labelFontSize":7,"labelPadding":1,"title":null,"offset":-27}},"x2":{"datum":520},"y":{"datum":0,"type":"quantitative","scale":{"domain":[-40.7,420.5],"nice":false,"zero":false},"axis":null}}},
{"data":{"values":[{}]},"mark":{"type":"rule","color":"#f5b2bf"},"encoding":{"x":{"datum":400,"type":"quantitative","scale":{"domain":[250.64,531.09],"nice":false,"zero":false}},"x2":{"datum":520},"y":{"datum":23,"type":"quantitative","scale":{"domain":[-40.7,420.5],"nice":false,"zero":false},"axis":null}}},
{"transform":[{"filter":"datum.s=='C5'"}],"mark":{"type":"rule","color":"#000","strokeWidth":1.1},"encoding":{"x":{"field":"mz","type":"quantitative","scale":{"domain":[250.64,531.09],"nice":false,"zero":false}},"y":{"field":"i","type":"quantitative","scale":{"domain":[-40.7,420.5],"nice":false,"zero":false},"axis":null},"y2":{"datum":0}}},
{"data":{"values":[{}]},"mark":{"type":"text","text":"0.2M","fontSize":14,"fontWeight":"bold"},"encoding":{"x":{"datum":454.2,"type":"quantitative","scale":{"domain":[250.64,531.09],"nice":false,"zero":false}},"y":{"datum":72.7,"type":"quantitative","scale":{"domain":[-40.7,420.5],"nice":false,"zero":false},"axis":null}}},
{"data":{"values":[{}]},"mark":{"type":"text","text":"*","fontSize":15,"fontWeight":"bold","color":"#ec2d3f","baseline":"alphabetic"},"encoding":{"x":{"datum":472.6,"type":"quantitative","scale":{"domain":[250.64,531.09],"nice":false,"zero":false}},"y":{"datum":19.4,"type":"quantitative","scale":{"domain":[-40.7,420.5],"nice":false,"zero":false},"axis":null}}}
]},
{"layer":[
{"data":{"values":[{}]},"mark":{"type":"rule","color":"#1aa752"},"encoding":{"x":{"datum":400,"type":"quantitative","scale":{"domain":[387.42,667.87],"nice":false,"zero":false},"axis":null},"x2":{"datum":520},"y":{"datum":0,"type":"quantitative","scale":{"domain":[-290.3,170.9],"nice":false,"zero":false},"axis":null}}},
{"transform":[{"filter":"datum.s=='CG'"}],"mark":{"type":"rule","color":"#1aa752","strokeWidth":1.1},"encoding":{"x":{"field":"mz","type":"quantitative","scale":{"domain":[387.42,667.87],"nice":false,"zero":false},"axis":null},"y":{"field":"i","type":"quantitative","scale":{"domain":[-290.3,170.9],"nice":false,"zero":false},"axis":null},"y2":{"datum":0}}},
{"data":{"values":[{}]},"mark":{"type":"text","text":"#","fontSize":11,"fontWeight":"bold","color":"#1aa752","baseline":"alphabetic"},"encoding":{"x":{"datum":432.5,"type":"quantitative","scale":{"domain":[387.42,667.87],"nice":false,"zero":false},"axis":null},"y":{"datum":61,"type":"quantitative","scale":{"domain":[-290.3,170.9],"nice":false,"zero":false},"axis":null}}},
{"data":{"values":[{}]},"mark":{"type":"text","text":"#","fontSize":11,"fontWeight":"bold","color":"#1aa752","baseline":"alphabetic"},"encoding":{"x":{"datum":462.5,"type":"quantitative","scale":{"domain":[387.42,667.87],"nice":false,"zero":false},"axis":null},"y":{"datum":56,"type":"quantitative","scale":{"domain":[-290.3,170.9],"nice":false,"zero":false},"axis":null}}},
{"data":{"values":[{}]},"mark":{"type":"text","text":"*","fontSize":15,"fontWeight":"bold","color":"#ec2d3f","baseline":"alphabetic"},"encoding":{"x":{"datum":472.6,"type":"quantitative","scale":{"domain":[387.42,667.87],"nice":false,"zero":false},"axis":null},"y":{"datum":14.6,"type":"quantitative","scale":{"domain":[-290.3,170.9],"nice":false,"zero":false},"axis":null}}},
{"data":{"values":[{}]},"mark":{"type":"text","text":"post- ACN/Hex partitioning","fontSize":13,"fontWeight":"bold","color":"#1aa752"},"encoding":{"x":{"datum":457.1,"type":"quantitative","scale":{"domain":[387.42,667.87],"nice":false,"zero":false},"axis":null},"y":{"datum":-14.2,"type":"quantitative","scale":{"domain":[-290.3,170.9],"nice":false,"zero":false},"axis":null}}}
]}
]},
{"title":{"text":"D. LG regioisomers in above liver extracts (C.)","offset":2},
"spacing":1,
"hconcat":[
{"title":{"text":"LG Std.","fontSize":13,"anchor":"start","offset":3,"dx":7},
"data":{"name":"d"},
"transform":[{"filter":"datum.g=='std'"}],
"facet":{"field":"cell","type":"nominal","title":null,"header":{"labels":false,"labelFontSize":0,"labelPadding":0,"labelExpr":"''","title":null,"titlePadding":0},"sort":["10% 1-LG","2-LG"]},
"columns":1,
"spacing":{"row":2,"column":2},
"spec":{"width":74,"height":86,
"view":{"stroke":"#b5b5b5","strokeDash":[1,2]},
"layer":[
{"mark":{"type":"rule","color":"#cfb8e6"},"encoding":{"x":{"datum":11.15,"type":"quantitative","scale":{"domain":[11.15,509.1],"nice":false,"zero":false},"axis":null},"x2":{"datum":509.1},"y":{"datum":21,"type":"quantitative","scale":{"domain":[-2,84],"nice":false,"zero":false},"axis":null}}},
{"mark":{"type":"rule","color":"#000"},"encoding":{"x":{"datum":11.15,"type":"quantitative","scale":{"domain":[11.15,509.1],"nice":false,"zero":false},"axis":null},"x2":{"datum":509.1},"y":{"datum":0,"type":"quantitative","scale":{"domain":[-2,84],"nice":false,"zero":false},"axis":null}}},
{"mark":{"type":"rule","color":"#000","strokeWidth":1.2},"encoding":{"x":{"field":"mz","type":"quantitative","scale":{"domain":[11.15,509.1],"nice":false,"zero":false},"axis":null},"y":{"field":"i","type":"quantitative","scale":{"domain":[-2,84],"nice":false,"zero":false},"axis":null},"y2":{"datum":0}}},
{"transform":[{"filter":"datum.mz==159.2"}],"mark":{"type":"text","text":"^","fontSize":13,"fontWeight":"bold","color":"#2e3192","baseline":"alphabetic","dy":2},"encoding":{"x":{"field":"mz","type":"quantitative","scale":{"domain":[11.15,509.1],"nice":false,"zero":false},"axis":null},"y":{"field":"i","type":"quantitative","scale":{"domain":[-2,84],"nice":false,"zero":false},"axis":null}}},
{"transform":[{"filter":"datum.mz==379.2"}],"mark":{"type":"text","fontSize":13,"fontWeight":"bold","color":"#8a3ea3"},"encoding":{"text":{"field":"cell"},"x":{"datum":260.1,"type":"quantitative","scale":{"domain":[11.15,509.1],"nice":false,"zero":false},"axis":null},"y":{"datum":73,"type":"quantitative","scale":{"domain":[-2,84],"nice":false,"zero":false},"axis":null}}},
{"transform":[{"filter":"datum.cell=='10% 1-LG' && datum.mz==379.2"}],"mark":{"type":"text","text":"379.2","fontSize":10,"align":"right","dx":-3},"encoding":{"x":{"field":"mz","type":"quantitative","scale":{"domain":[11.15,509.1],"nice":false,"zero":false},"axis":null},"y":{"datum":60.7,"type":"quantitative","scale":{"domain":[-2,84],"nice":false,"zero":false},"axis":null}}},
{"transform":[{"filter":"datum.cell=='10% 1-LG' && datum.mz==159.2"}],"mark":{"type":"text","text":"159.2","fontSize":10,"color":"#2e3192"},"encoding":{"x":{"field":"mz","type":"quantitative","scale":{"domain":[11.15,509.1],"nice":false,"zero":false},"axis":null},"y":{"datum":36.3,"type":"quantitative","scale":{"domain":[-2,84],"nice":false,"zero":false},"axis":null}}}
]}
},
{"title":{"text":"LG in liver extracts","fontSize":13,"anchor":"middle","offset":3},
"data":{"name":"d"},
"transform":[{"filter":"datum.g=='liv'"}],
"facet":{"field":"cell","type":"nominal","title":null,"header":{"labels":false,"labelFontSize":0,"labelPadding":0,"labelExpr":"''","title":null,"titlePadding":0},"sort":["0 M","0.001M","0.01M","0.025M","0.1M","0.2M"]},
"columns":4,
"spacing":{"row":2,"column":2},
"spec":{"width":67,"height":86,
"view":{"stroke":"#b5b5b5","strokeDash":[1,2]},
"layer":[
{"mark":{"type":"rule","color":"#cfb8e6"},"encoding":{"x":{"datum":40.1,"type":"quantitative","scale":{"domain":[40.1,491.0],"nice":false,"zero":false},"axis":null},"x2":{"datum":491.0},"y":{"datum":21,"type":"quantitative","scale":{"domain":[-2,84],"nice":false,"zero":false},"axis":null}}},
{"mark":{"type":"rule","color":"#000"},"encoding":{"x":{"datum":40.1,"type":"quantitative","scale":{"domain":[40.1,491.0],"nice":false,"zero":false},"axis":null},"x2":{"datum":491.0},"y":{"datum":0,"type":"quantitative","scale":{"domain":[-2,84],"nice":false,"zero":false},"axis":null}}},
{"mark":{"type":"rule","color":"#000","strokeWidth":1.2},"encoding":{"x":{"field":"mz","type":"quantitative","scale":{"domain":[40.1,491.0],"nice":false,"zero":false},"axis":null},"y":{"field":"i","type":"quantitative","scale":{"domain":[-2,84],"nice":false,"zero":false},"axis":null},"y2":{"datum":0}}},
{"transform":[{"filter":"datum.mz==159.2"}],"mark":{"type":"text","text":"^","fontSize":13,"fontWeight":"bold","color":"#2e3192","baseline":"alphabetic","dy":2},"encoding":{"x":{"field":"mz","type":"quantitative","scale":{"domain":[40.1,491.0],"nice":false,"zero":false},"axis":null},"y":{"field":"i","type":"quantitative","scale":{"domain":[-2,84],"nice":false,"zero":false},"axis":null}}},
{"transform":[{"filter":"datum.mz==379.2"}],"mark":{"type":"text","fontSize":13,"fontWeight":"bold","color":"#000"},"encoding":{"text":{"field":"cell"},"x":{"datum":265.6,"type":"quantitative","scale":{"domain":[40.1,491.0],"nice":false,"zero":false},"axis":null},"y":{"datum":73,"type":"quantitative","scale":{"domain":[-2,84],"nice":false,"zero":false},"axis":null}}}
]}
}
]}
]}
]
}
